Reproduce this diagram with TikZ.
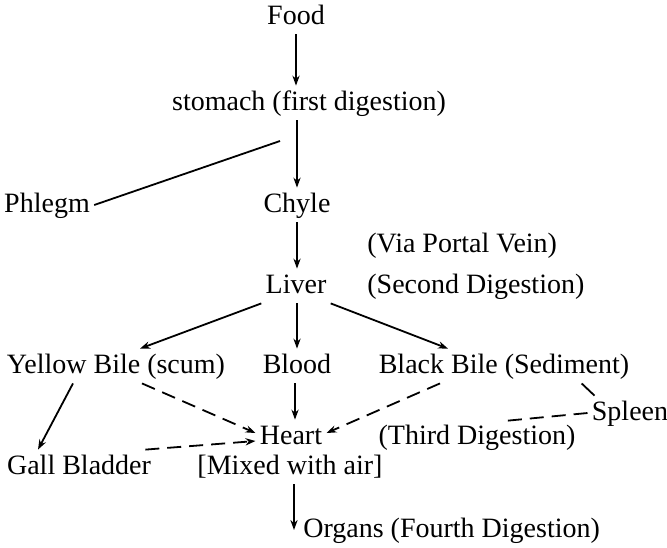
\documentclass[tikz,border=0pt]{standalone}
\usepackage{fontspec}
\setmainfont{Liberation Serif}
\usetikzlibrary{arrows.meta}

\begin{document}
\begin{tikzpicture}[
  x=0.5pt, y=-0.5pt,
  font=\fontsize{14}{16}\selectfont,
  lbl/.style={inner sep=2pt, text height=10pt, text depth=3pt},
  arr/.style={-{Stealth[length=5pt, width=3.6pt]}, line width=0.9pt},
  plain/.style={line width=0.9pt},
  dsh/.style={arr, dash pattern=on 7pt off 4pt},
]
\useasboundingbox (0,0) rectangle (667,547);

% ===== main chain =====
\node[lbl] (food) at (296, 17) {Food};
\node[lbl] (stom) at (309, 103) {stomach (first digestion)};
\node[lbl] (phlegm) at (47, 205) {Phlegm};
\node[lbl] (chyle) at (297, 205) {Chyle};
\node[lbl, anchor=west] (portal) at (363, 245) {(Via Portal Vein)};
\node[lbl] (liver) at (296, 286) {Liver};
\node[lbl, anchor=west] (second) at (363, 286) {(Second Digestion)};

% ===== humours =====
\node[lbl] (yb) at (116, 366) {Yellow Bile (scum)};
\node[lbl] (blood) at (297, 366) {Blood};
\node[lbl] (bb) at (504, 366) {Black Bile (Sediment)};
\node[lbl] (spleen) at (630, 413) {Spleen};
\node[lbl] (heart) at (291, 437) {Heart};
\node[lbl] (third) at (477, 437) {(Third Digestion)};
\node[lbl] (gb) at (79, 467) {Gall Bladder};
\node[lbl] (mix) at (290, 467) {[Mixed with air]};
\node[lbl, anchor=west] (organs) at (299, 530) {Organs (Fourth Digestion)};

\coordinate (phl) at (280, 141);
\coordinate (spl) at (504, 421);

% connectors
\draw[arr] (food) -- (food |- stom.north);
\draw[arr] (chyle |- stom.south) -- (chyle);
\draw[plain] (phlegm.east) -- (phl);
\draw[arr] (chyle) -- (chyle |- liver.north);
\draw[arr] (liver.south west) -- ([xshift=12pt]yb.north);
\draw[arr] (blood |- liver.south) -- (blood);
\draw[arr] (liver.south east) -- ([xshift=-28pt]bb.north);
\draw[arr] ([xshift=-21.5pt]yb.south) -- ([xshift=-20.5pt]gb.north);
\draw[dsh] ([xshift=13pt]yb.south) -- ([yshift=2pt]heart.west);
\draw[arr] ([xshift=-1pt]blood.south) -- ([xshift=-1pt]blood.south |- heart.north);
\draw[dsh] ([xshift=-32pt]bb.south) -- ([yshift=2pt]heart.east);
\draw[dsh] ([xshift=-5pt]gb.north east) -- ([yshift=-2pt]heart.west);
\draw[plain] ([xshift=-26pt]bb.south east) -- ([xshift=3.5pt]spleen.north west);
\draw[plain, dash pattern=on 7pt off 4pt] (spleen.west) -- (spl);
\draw[arr] ([xshift=2pt]mix.south) -- ([xshift=2pt]mix.south |- organs.west);

\end{tikzpicture}
\end{document}
